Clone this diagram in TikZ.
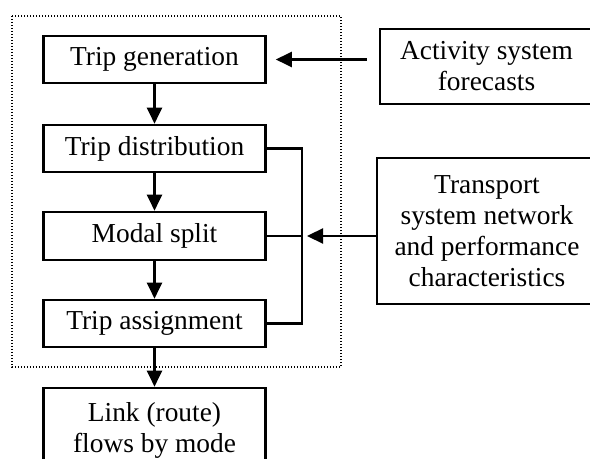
\documentclass[tikz,border=0pt]{standalone}
\usepackage{fontspec}
\setmainfont{Liberation Serif}
\usepackage{tikz}
\usetikzlibrary{calc}
\usetikzlibrary{arrows.meta, positioning}

\begin{document}
\begin{tikzpicture}[x=0.5pt,y=-0.5pt,line width=1.1pt,>={Triangle[length=8pt,width=7.5pt]},
                    model node/.style={rectangle,draw,line width=1.3pt,font=\fontsize{13.7}{15.5}\selectfont,minimum width=111pt,minimum height=23.5pt,inner sep=0pt,align=center},
                    input node/.style={model node,minimum width=106.5pt},
                    frame/.style={line width=0.7pt,dash pattern=on 0.7pt off 0.8pt}]
 \clip (0,0) rectangle (590,459);

%Model steps
  \node[model node] (gen) at (154.5,59.5) {Trip generation};
  \node[model node] (dist) at (154.5,148.5) {Trip distribution};
  \node[model node,minimum height=24pt] (modal) at (154.5,236) {Modal split};
  \node[model node] (assign) at (154.5,323.5) {Trip assignment};
  \node[model node,minimum height=42pt] (link) at (154.5,430) {Link (route)\\flows by mode};

%Inputs to the side
  \node[input node,minimum height=37.5pt] (act) at (486.5,66.5) {Activity system\\forecasts};
  \node[input node,minimum width=110pt,minimum height=73pt] (tsys) at (487,231) {Transport\\system network\\and performance\\characteristics};

%Dotted frame
  \draw[frame] (12,16) rectangle (341,367);

%Arrows down
  \draw[->] (gen) -- (dist);
  \draw[->] (dist) -- (modal);
  \draw[->] (modal) -- (assign);
  \draw[->] (assign) -- (link);

%Bracket and side arrows
  \coordinate (bus) at (302,236);
  \draw (dist.east) -- (dist.east -| bus) -- (assign.east -| bus) -- (assign.east);
  \draw (modal.east) -- (bus);
  \draw[->,shorten >=2.5pt] (tsys.west |- bus) -- (bus);
  \draw[->,shorten >=4.5pt] ([xshift=-6pt]act.west |- gen.east) -- (gen.east);

\end{tikzpicture}
\end{document}
